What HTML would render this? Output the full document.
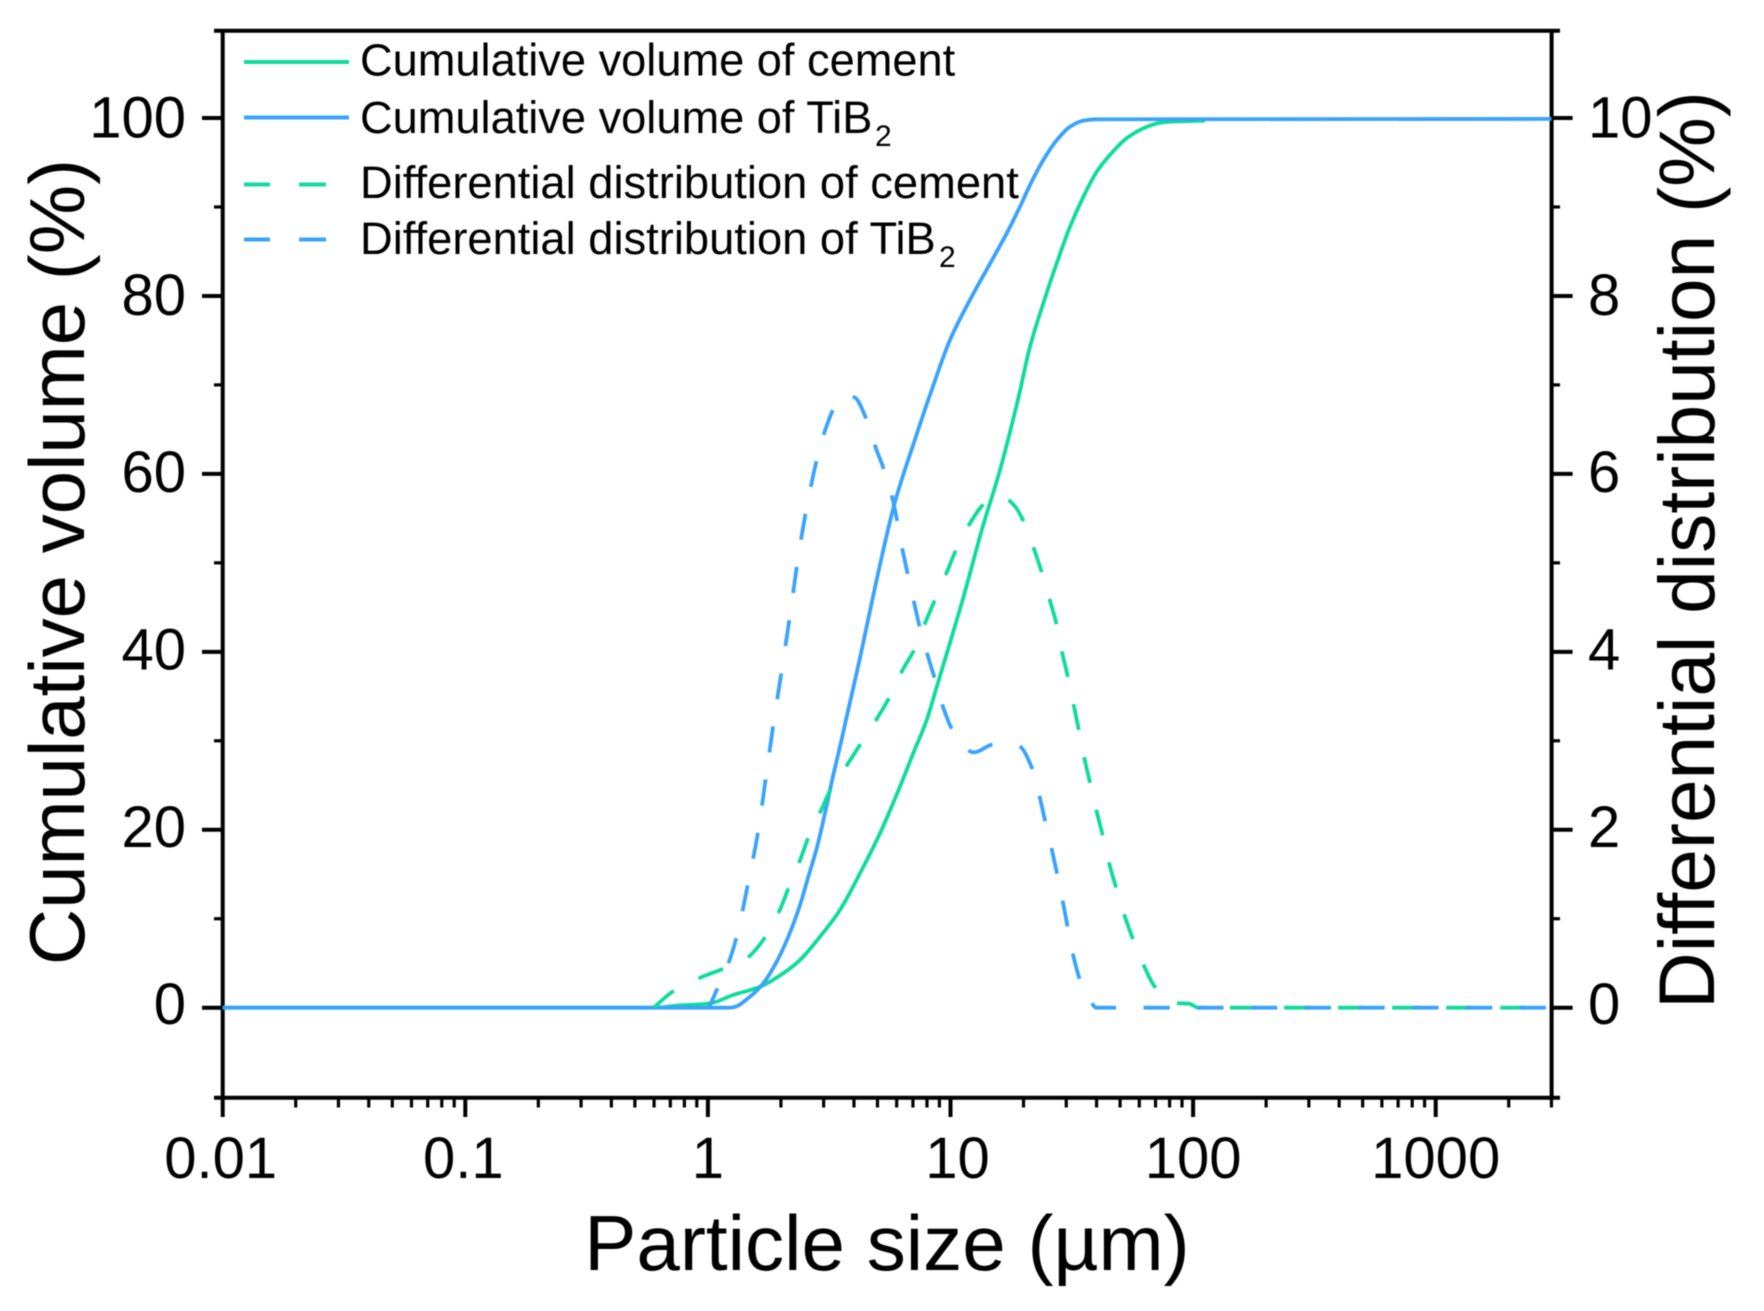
<!DOCTYPE html>
<html>
<head>
<meta charset="utf-8">
<title>Particle size distribution</title>
<style>
html,body{margin:0;padding:0;background:#fff;}
svg{display:block;filter:blur(0.6px);}
text{font-family:"Liberation Sans",sans-serif;fill:#000;}
</style>
</head>
<body>
<svg id="chart" xmlns="http://www.w3.org/2000/svg" width="1764" height="1311" viewBox="0 0 1764 1311">
  <rect width="1764" height="1311" fill="#ffffff"/>
  <g id="axes"></g>
  <g id="series"></g>
  <g id="legend">
    <line x1="244" x2="349" y1="62" y2="62" stroke="#0fdc9c" stroke-width="4"/>
    <text x="360" y="75.500" font-size="45.200">Cumulative volume of cement</text>
    <line x1="244" x2="349" y1="117.500" y2="117.500" stroke="#3aa3fb" stroke-width="4"/>
    <text x="360" y="133" font-size="45.200">Cumulative volume of TiB</text>
    <text x="875" y="146" font-size="30">2</text>
    <path d="M244 184.500H270M299 184.500H326" stroke="#0fdc9c" stroke-width="4" fill="none"/>
    <text x="360" y="198" font-size="45.300">Differential distribution of cement</text>
    <path d="M244 239.500H270M299 239.500H326" stroke="#3aa3fb" stroke-width="4" fill="none"/>
    <text x="360" y="254" font-size="45.300">Differential distribution of TiB</text>
    <text x="939" y="267" font-size="30">2</text>
  </g>
  <text x="887" y="1270" font-size="78.200" text-anchor="middle">Particle size (µm)</text>
  <text transform="translate(84 562) rotate(-90)" font-size="78" text-anchor="middle">Cumulative volume (%)</text>
  <text transform="translate(1714 550) rotate(-90)" font-size="78.400" text-anchor="middle">Differential distribution (%)</text>
</svg>
<script>
// ---- chart data ----
const xMajorTicks = [0.01, 0.1, 1, 10, 100, 1000];
const xTickLabels = ["0.01", "0.1", "1", "10", "100", "1000"];
const xMinorTicks = [0.02,0.03,0.04,0.05,0.06,0.07,0.08,0.09,0.2,0.3,0.4,0.5,0.6,0.7,0.8,0.9,2,3,4,5,6,7,8,9,20,30,40,50,60,70,80,90,200,300,400,500,600,700,800,900,2000,3000];
const yLeftTicks = [0, 20, 40, 60, 80, 100];
const yLeftMinorTicks = [10, 30, 50, 70, 90];
const yRightTicks = [0, 2, 4, 6, 8, 10];
const yRightMinorTicks = [1, 3, 5, 7, 9];

const cementCumSizes = [0.01,0.597,0.739,1.02,1.272,1.64,2.045,2.397,2.898,3.503,4.236,5.12,6.19,7.02,7.98,8.78,11.32,13.58,16.0,19.03,21.27,24.13,27.4,31.1,35.3,40.06,45.4,53.2,62.3,73.0,80.3,112];
const cementCumValues = [0,0,0.22,0.49,1.43,2.36,3.87,5.36,7.98,10.98,15.11,19.6,24.84,28.59,32.34,36.08,46.2,54.06,60.44,68.5,74.3,79.17,83.67,87.78,91.15,93.96,95.84,97.72,98.84,99.47,99.58,99.69];

const tibCumSizes = [0.01,1.195,1.272,1.491,1.692,1.921,2.145,2.397,2.594,2.809,3.038,3.287,3.503,3.708,4.236,4.907,5.888,7.06,8.366,9.95,12.03,14.32,17.05,19.34,21.27,24.13,27.4,31.1,35.3,40.06,3000];
const tibCumValues = [0,0,0.05,1.24,2.74,5.17,7.98,11.54,14.72,17.92,21.85,26.16,29.34,32.34,39.31,47.5,56.73,63.47,69.43,75.05,79.55,83.29,87.04,90.03,92.47,95.28,97.5,99.02,99.7,99.85,99.9];

const cementDiffSizes = [0.597,0.723,0.944,1.15,1.45,1.72,1.98,2.16,2.40,2.60,2.93,3.23,3.77,4.27,4.95,5.58,6.33,7.11,7.93,8.68,9.67,10.6,12.0,13.6,15.1,16.9,18.5,19.9,22.0,23.6,25.6,27.3,28.8,30.4,32.1,33.7,35.6,37.5,39.9,42.2,45.0,47.9,51.8,56.0,62.3,68.2,76.7,86.7,96.2,105,3000];
const cementDiffValues = [0,0.19,0.345,0.435,0.56,0.79,1.10,1.36,1.66,1.92,2.22,2.47,2.74,2.97,3.24,3.48,3.79,4.03,4.35,4.60,4.90,5.16,5.44,5.65,5.73,5.72,5.63,5.48,5.17,4.92,4.59,4.32,4.00,3.73,3.42,3.14,2.81,2.54,2.22,1.96,1.63,1.37,1.06,0.80,0.49,0.27,0.09,0.05,0.045,0,0];

const tibDiffSizes = [1.01,1.10,1.23,1.32,1.47,1.62,1.74,1.87,2.02,2.18,2.34,2.55,2.83,3.06,3.34,3.67,4.02,4.51,4.91,5.36,5.78,6.37,7.11,7.51,8.07,8.68,9.37,10.2,12.5,15.1,19.1,21.7,23.3,24.6,26.2,29.1,32.1,34.2,37.5,39.9,3000];
const tibDiffValues = [0,0.23,0.54,0.82,1.42,2.02,2.62,3.22,3.81,4.41,5.01,5.61,6.19,6.51,6.76,6.88,6.86,6.61,6.30,6.02,5.71,5.12,4.53,4.25,3.95,3.67,3.36,3.12,2.87,2.96,2.94,2.69,2.37,2.09,1.77,1.18,0.58,0.31,0.09,0,0];

// ---- axis functions ----
const plotLeft = 222.7, plotRight = 1551.6, frameTop = 30.7, frameBottom = 1097.7;
const xDecadePx = 242.6, y0Px = 1007.7, yUnitPx = 8.897;
function xScale(size) { return plotLeft + (Math.log10(size) + 2) * xDecadePx; }
function yLeftScale(v) { return y0Px - v * yUnitPx; }
function yRightScale(v) { return yLeftScale(v * 10); }

const NS = "http://www.w3.org/2000/svg";
const axes = document.getElementById("axes");
const seriesGroup = document.getElementById("series");

function makeLine(x1, y1, x2, y2, w) {
  const l = document.createElementNS(NS, "line");
  l.setAttribute("x1", x1); l.setAttribute("y1", y1);
  l.setAttribute("x2", x2); l.setAttribute("y2", y2);
  l.setAttribute("stroke", "#000"); l.setAttribute("stroke-width", w);
  axes.appendChild(l);
  return l;
}
function makeText(x, y, str, anchor) {
  const t = document.createElementNS(NS, "text");
  t.setAttribute("x", x); t.setAttribute("y", y);
  t.setAttribute("font-size", 58);
  t.setAttribute("text-anchor", anchor);
  t.textContent = str;
  axes.appendChild(t);
  return t;
}

// frame
const topAxis = makeLine(214, frameTop, 1560, frameTop, 4);


const bottomAxis = makeLine(214, frameBottom, 1560, frameBottom, 4);


const leftAxis = makeLine(plotLeft, frameTop, plotLeft, frameBottom, 4);


const rightAxis = makeLine(plotRight, frameTop, plotRight, frameBottom, 4);



// x ticks
xMajorTicks.forEach(function (v, i) {
  const px = xScale(v);
  const tick = makeLine(px, frameBottom, px, 1117, 4);
  
  
  const shift = v < 1 ? -2 : (v === 10 ? 7 : 0);
  const label = makeText(px + shift, 1178, xTickLabels[i], "middle");
  
  
});
xMinorTicks.forEach(function (v) {
  const px = xScale(v);
  const tick = makeLine(px, frameBottom, px, 1107.5, 3.2);
  
  
});

// left y ticks
yLeftTicks.forEach(function (v) {
  const py = yLeftScale(v);
  const tick = makeLine(202, py, plotLeft, py, 4);
  
  
  const label = makeText(186, py + 16.5 + 3 * v / 100, String(v), "end");
  
  
});
yLeftMinorTicks.forEach(function (v) {
  const py = yLeftScale(v);
  const tick = makeLine(214, py, plotLeft, py, 3.2);
  
  
});

// right y ticks
yRightTicks.forEach(function (v) {
  const py = yRightScale(v);
  const tick = makeLine(plotRight, py, 1572.6, py, 4);
  
  
  const label = makeText(1588, py + 16.5 + 3 * v / 10, String(v), "start");
  
  
});
yRightMinorTicks.forEach(function (v) {
  const py = yRightScale(v);
  const tick = makeLine(plotRight, py, 1560, py, 3.2);
  
  
});

// series: monotone cubic through the data points, in pixel space
function pathFrom(sizes, values, yFn) {
  const xs = sizes.map(xScale);
  const ys = values.map(yFn);
  const n = xs.length;
  const d = [];
  for (let i = 0; i < n - 1; i++) d.push((ys[i + 1] - ys[i]) / (xs[i + 1] - xs[i]));
  const m = [d[0]];
  for (let i = 1; i < n - 1; i++) {
    if (d[i - 1] * d[i] <= 0) { m.push(0); continue; }
    const w1 = 2 * (xs[i + 1] - xs[i]) + (xs[i] - xs[i - 1]);
    const w2 = (xs[i + 1] - xs[i]) + 2 * (xs[i] - xs[i - 1]);
    m.push((w1 + w2) / (w1 / d[i - 1] + w2 / d[i]));
  }
  m.push(d[n - 2]);
  let path = "M" + xs[0].toFixed(2) + " " + ys[0].toFixed(2);
  for (let i = 0; i < n - 1; i++) {
    const h = (xs[i + 1] - xs[i]) / 3;
    path += "C" + (xs[i] + h).toFixed(2) + " " + (ys[i] + m[i] * h).toFixed(2) + " " +
      (xs[i + 1] - h).toFixed(2) + " " + (ys[i + 1] - m[i + 1] * h).toFixed(2) + " " +
      xs[i + 1].toFixed(2) + " " + ys[i + 1].toFixed(2);
  }
  return path;
}
function drawSeries(d, color) {
  const p = document.createElementNS(NS, "path");
  p.setAttribute("d", d);
  p.setAttribute("fill", "none");
  p.setAttribute("stroke", color);
  p.setAttribute("stroke-width", 3.8);
  p.setAttribute("stroke-linejoin", "round");
  seriesGroup.appendChild(p);
  return p;
}
// Fit the dash period so the phase at both the start of the curve and the flat tail agree.
function applyDash(path, startOffset, tailDashX) {
  const total = path.getTotalLength();
  const target = total - (plotRight - tailDashX) + startOffset;
  const count = Math.round(target / 54.3);
  const period = target / count;
  const on = period * 0.488;
  path.setAttribute("stroke-dasharray", on.toFixed(3) + " " + (period - on).toFixed(3));
  path.setAttribute("stroke-dashoffset", startOffset);
}
const GREEN = "#0fdc9c", BLUE = "#3aa3fb";

const cementCumLine = drawSeries(pathFrom(cementCumSizes, cementCumValues, yLeftScale), GREEN);



const tibCumLine = drawSeries(pathFrom(tibCumSizes, tibCumValues, yLeftScale), BLUE);



const cementDiffLine = drawSeries(pathFrom(cementDiffSizes, cementDiffValues, yRightScale), GREEN);


applyDash(cementDiffLine, 0, 1230);

const tibDiffLine = drawSeries(pathFrom(tibDiffSizes, tibDiffValues, yRightScale), BLUE);


applyDash(tibDiffLine, 5, 1251);
</script>
</body>
</html>
